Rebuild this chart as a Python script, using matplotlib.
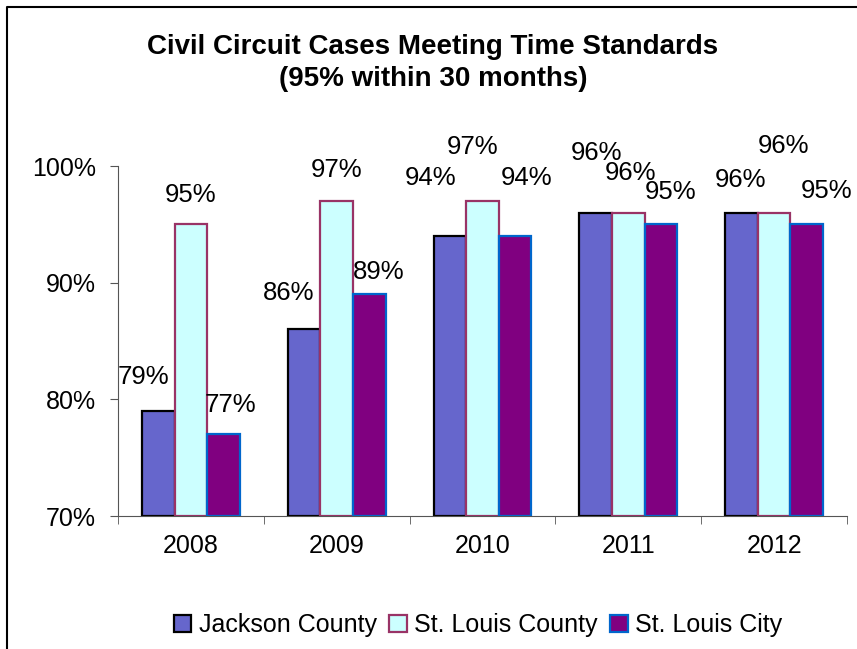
import matplotlib.pyplot as plt
import numpy as np
from matplotlib.lines import Line2D

plt.rcParams["font.family"] = ["Liberation Sans", "DejaVu Sans"]

YEARS = ["2008", "2009", "2010", "2011", "2012"]
SERIES = ["Jackson County", "St. Louis County", "St. Louis City"]
JACKSON = [79, 86, 94, 96, 96]
ST_LOUIS_COUNTY = [95, 97, 97, 96, 96]
ST_LOUIS_CITY = [77, 89, 94, 95, 95]
YTICKS = [70, 80, 90, 100]

FILLS = ["#6666CC", "#CCFFFF", "#800080"]
EDGES = ["#000000", "#993366", "#0066CC"]

# label offsets in pixels (dx, dy above bar top), mimicking Excel placement
LABEL_OFFSETS = [
    [(-15, 34), (0, 29), (7, 29)],
    [(-15, 36), (0, 31), (9, 22)],
    [(-19, 58), (-10, 54), (11, 58)],
    [(1, 60), (2, 40), (10, 32)],
    [(-1, 33), (9, 67), (20, 33)],
]

fig = plt.figure(figsize=(8.57, 6.49), dpi=100)
# frame: only left and top edges fall inside the picture
fig.lines.append(Line2D([7 / 857, 7 / 857, 1], [0, 1 - 7 / 649, 1 - 7 / 649],
                        transform=fig.transFigure, color="black", linewidth=1.5))
ax = fig.add_axes([118 / 857, 1 - 516 / 649, (847 - 118) / 857, (516 - 166) / 649])

x = np.arange(len(YEARS))
width = 0.224
values = [JACKSON, ST_LOUIS_COUNTY, ST_LOUIS_CITY]
for i, (name, vals) in enumerate(zip(SERIES, values)):
    pos = x + (i - 1) * width
    ax.bar(pos, np.array(vals) - 70, width, bottom=70, color=FILLS[i], edgecolor=EDGES[i],
           linewidth=1.6, label=name)
    for j, v in enumerate(vals):
        dx, dy = LABEL_OFFSETS[j][i]
        ax.annotate(f"{v}%", (pos[j], v), xytext=(dx * 0.72, dy * 0.72), textcoords="offset points",
                    ha="center", va="center", fontsize=18.5)

ax.set_xlim(-0.5, len(YEARS) - 0.5)
ax.set_ylim(70, 100)
ax.set_yticks(YTICKS)
ax.set_yticklabels([f"{t}%" for t in YTICKS], fontsize=18)
ax.set_xticks(x)
ax.set_xticklabels(YEARS, fontsize=18)
ax.set_xticks(np.arange(len(YEARS) + 1) - 0.5, minor=True)
ax.tick_params(axis="x", which="major", length=0, pad=13)
ax.tick_params(axis="x", which="minor", length=6, color="#555555")
ax.tick_params(axis="y", length=6, color="#555555", pad=10)
for side in ("top", "right"):
    ax.spines[side].set_visible(False)
for side in ("left", "bottom"):
    ax.spines[side].set_color("#555555")

fig.text(433 / 857, 1 - 63 / 649, "Civil Circuit Cases Meeting Time Standards\n(95% within 30 months)",
         ha="center", va="center", fontsize=20, fontweight="bold", linespacing=1.35)

fig.legend(loc="center", bbox_to_anchor=(478 / 857, 1 - 625 / 649), ncol=3, frameon=False,
           fontsize=18, handlelength=0.7, handleheight=0.7, handletextpad=0.3, columnspacing=0.5)

fig.savefig("out.png", dpi=100)
